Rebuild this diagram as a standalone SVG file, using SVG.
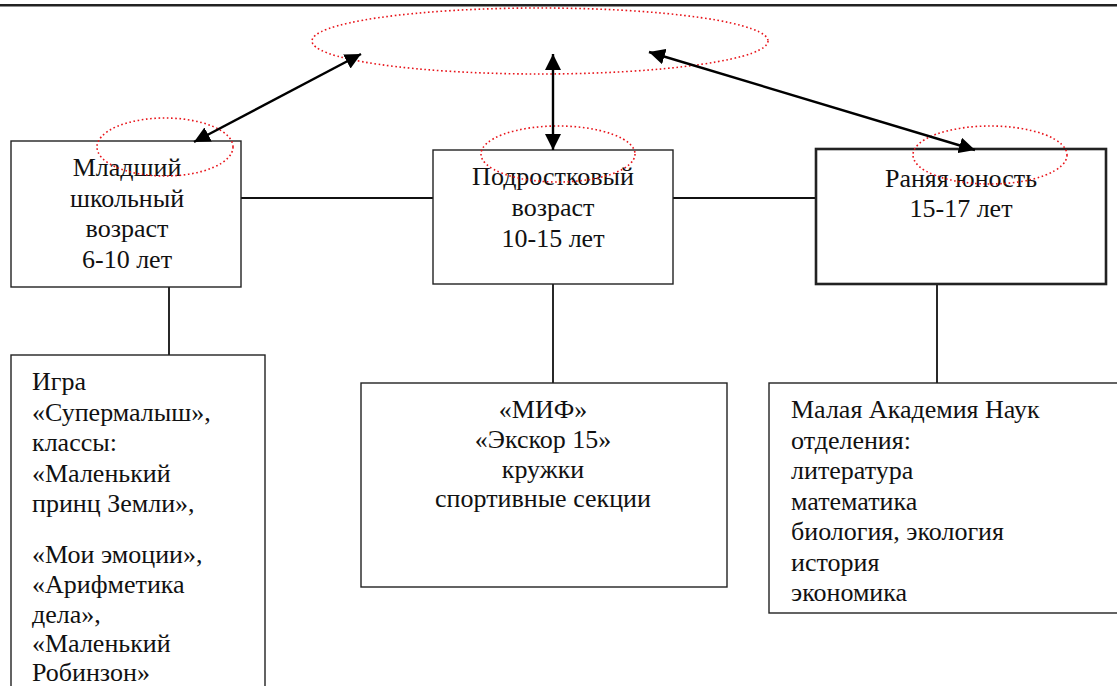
<svg xmlns="http://www.w3.org/2000/svg" width="1117" height="686" viewBox="0 0 1117 686">
<style>
.box{fill:#fff;stroke:#222;stroke-width:1.4}
.bold{stroke-width:2.6}
.line{stroke:#111;stroke-width:1.8;fill:none}
.arr{stroke:#000;stroke-width:2.4;fill:none}
.oval{fill:none;stroke:#e8141a;stroke-width:1.6;stroke-dasharray:1.6 2.6}
.t{font-family:'Liberation Serif','Times New Roman','DejaVu Serif',serif;font-size:26px;fill:#111}
.c{text-anchor:middle}
</style>
<defs>
<marker id="ah" viewBox="0 0 16 16" refX="16" refY="8" markerWidth="16" markerHeight="16" markerUnits="userSpaceOnUse" orient="auto-start-reverse">
<path d="M0,0 L16,8 L0,16 z" fill="#000"/>
</marker>
</defs>
<rect width="1117" height="686" fill="#fff"/>
<line x1="0" y1="5.3" x2="1117" y2="5.3" stroke="#222" stroke-width="2.6"/>
<g id="connectors">
<line class="line" x1="241" y1="198" x2="433" y2="198"/>
<line class="line" x1="673" y1="198" x2="816" y2="198"/>
<line class="line" x1="169" y1="287" x2="169" y2="360"/>
<line class="line" x1="553" y1="284" x2="553" y2="383"/>
<line class="line" x1="937" y1="284" x2="937" y2="383"/>
</g>
<g id="node-junior" class="t" font-family="Liberation Serif, serif">
<rect class="box" x="11" y="141" width="230" height="146"/>
<text class="c" x="127" y="176">Младший</text>
<text class="c" x="127" y="206.5">школьный</text>
<text class="c" x="127" y="237">возраст</text>
<text class="c" x="127" y="267.5">6-10 лет</text>
</g>
<g id="node-teen" class="t" font-family="Liberation Serif, serif">
<rect class="box" x="433" y="150" width="240" height="134"/>
<text class="c" x="553" y="185">Подростковый</text>
<text class="c" x="553" y="216">возраст</text>
<text class="c" x="553" y="247">10-15 лет</text>
</g>
<g id="node-youth" class="t" font-family="Liberation Serif, serif">
<rect class="box bold" x="816" y="149" width="290" height="135"/>
<text class="c" x="961" y="187">Раняя юность</text>
<text class="c" x="961" y="217">15-17 лет</text>
</g>
<g id="node-junior-activities" class="t" font-family="Liberation Serif, serif">
<rect class="box" x="11" y="355" width="254" height="340"/>
<text x="32" y="390">Игра</text>
<text x="32" y="420.5">«Супермалыш»,</text>
<text x="32" y="451">классы:</text>
<text x="32" y="481.5">«Маленький</text>
<text x="32" y="512">принц Земли»,</text>
<text x="32" y="563">«Мои эмоции»,</text>
<text x="32" y="593">«Арифметика</text>
<text x="32" y="622.5">дела»,</text>
<text x="32" y="652">«Маленький</text>
<text x="32" y="680.5">Робинзон»</text>
</g>
<g id="node-teen-activities" class="t" font-family="Liberation Serif, serif">
<rect class="box" x="361" y="383" width="366" height="204"/>
<text class="c" x="543" y="418">«МИФ»</text>
<text class="c" x="543" y="448">«Экскор 15»</text>
<text class="c" x="543" y="477.5">кружки</text>
<text class="c" x="543" y="507">спортивные секции</text>
</g>
<g id="node-youth-activities" class="t" font-family="Liberation Serif, serif">
<rect class="box" x="769" y="383" width="360" height="230"/>
<text x="791" y="418">Малая Академия Наук</text>
<text x="791" y="448.5">отделения:</text>
<text x="791" y="479">литература</text>
<text x="791" y="509.5">математика</text>
<text x="791" y="540">биология, экология</text>
<text x="791" y="570.5">история</text>
<text x="791" y="601">экономика</text>
</g>
<g id="ovals">
<ellipse class="oval" cx="540" cy="41" rx="228" ry="33"/>
<ellipse class="oval" cx="165" cy="147" rx="68" ry="29"/>
<ellipse class="oval" cx="558" cy="154" rx="77" ry="28"/>
<ellipse class="oval" cx="990" cy="155" rx="77" ry="29"/>
</g>
<g id="arrows">
<line class="arr" x1="194" y1="142" x2="361" y2="54" marker-start="url(#ah)" marker-end="url(#ah)"/>
<line class="arr" x1="553" y1="54" x2="553" y2="150" marker-start="url(#ah)" marker-end="url(#ah)"/>
<line class="arr" x1="649" y1="52" x2="975" y2="150" marker-start="url(#ah)" marker-end="url(#ah)"/>
</g>
</svg>
